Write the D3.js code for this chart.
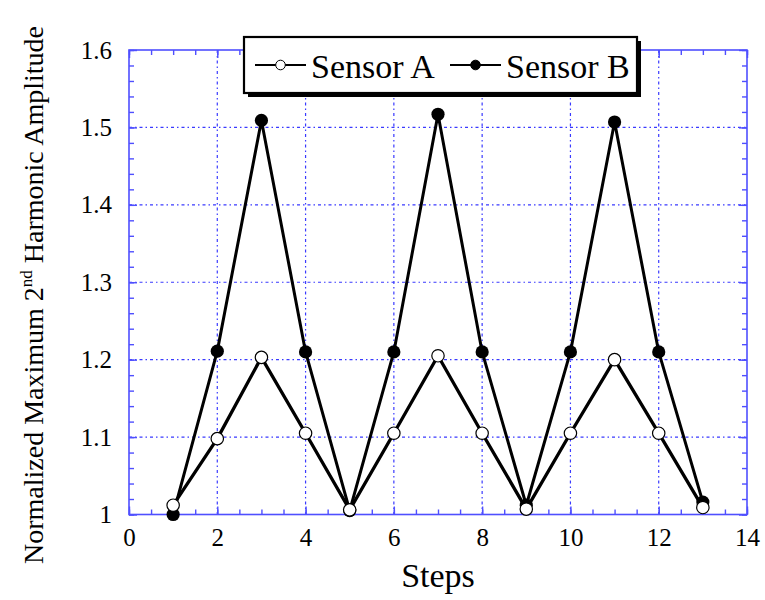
<!DOCTYPE html>
<html>
<head>
<meta charset="utf-8">
<script src="https://cdn.jsdelivr.net/npm/d3@7"></script>
<style>
  body { margin: 0; background: #fff; }
  text { font-family: "Liberation Serif", "Times New Roman", serif; fill: #000; }
</style>
</head>
<body>
<div id="chart"></div>
<script>
// data
const steps = [1, 2, 3, 4, 5, 6, 7, 8, 9, 10, 11, 12, 13];
const sensorA = [1.012, 1.098, 1.203, 1.105, 1.006, 1.105, 1.205, 1.105, 1.007, 1.105, 1.200, 1.105, 1.009];
const sensorB = [1.000, 1.211, 1.509, 1.210, 1.005, 1.210, 1.517, 1.210, 1.012, 1.210, 1.507, 1.210, 1.016];
const xTicks = [0, 2, 4, 6, 8, 10, 12, 14];
const yTicks = [1, 1.1, 1.2, 1.3, 1.4, 1.5, 1.6];

const W = 765, H = 600;
const plotLeft = 129, plotRight = 747, plotTop = 50, plotBottom = 514.5;
const blue = '#4f4fff';

const svg = d3.select('#chart')
    .append('svg')
    .attr('width', W)
    .attr('height', H);

const x = d3.scaleLinear().domain([0, 14]).range([plotLeft, plotRight]);
const y = d3.scaleLinear().domain([1, 1.6]).range([plotBottom, plotTop]);

// grid lines at the major ticks
svg.append('g')
    .selectAll('line')
    .data(xTicks.slice(1, -1))
    .enter()
    .append('line')
    .attr('x1', d => x(d)).attr('x2', d => x(d))
    .attr('y1', plotTop).attr('y2', plotBottom)
    .attr('stroke', '#3a3aff')
    .attr('stroke-width', 1.2)
    .attr('stroke-dasharray', '3,3,1.5,3');

svg.append('g')
    .selectAll('line')
    .data(yTicks.slice(1, -1))
    .enter()
    .append('line')
    .attr('x1', plotLeft).attr('x2', plotRight)
    .attr('y1', d => y(d)).attr('y2', d => y(d))
    .attr('stroke', '#3a3aff')
    .attr('stroke-width', 1.2)
    .attr('stroke-dasharray', '3,3,1.5,3');

// axes: ticks point inward on all four sides
const xMinor = d3.range(0, 14.01, 0.5);
const yMinor = d3.range(1, 1.601, 0.02);

function styleAxis(g) {
    g.select('.domain').remove();
    g.selectAll('.tick line').attr('stroke', blue).attr('stroke-width', 1.4);
}

svg.append('g')
    .attr('transform', `translate(0,${plotBottom})`)
    .call(d3.axisBottom(x).tickValues(xMinor).tickSize(-5).tickFormat(''))
    .call(styleAxis);
svg.append('g')
    .attr('transform', `translate(0,${plotTop})`)
    .call(d3.axisTop(x).tickValues(xMinor).tickSize(-5).tickFormat(''))
    .call(styleAxis);
svg.append('g')
    .attr('transform', `translate(${plotLeft},0)`)
    .call(d3.axisLeft(y).tickValues(yMinor).tickSize(-5).tickFormat(''))
    .call(styleAxis);
svg.append('g')
    .attr('transform', `translate(${plotRight},0)`)
    .call(d3.axisRight(y).tickValues(yMinor).tickSize(-5).tickFormat(''))
    .call(styleAxis);

const xAxis = svg.append('g')
    .attr('transform', `translate(0,${plotBottom})`)
    .call(d3.axisBottom(x).tickValues(xTicks).tickSize(-8).tickPadding(14).tickFormat(d3.format('d')))
    .call(styleAxis);
svg.append('g')
    .attr('transform', `translate(0,${plotTop})`)
    .call(d3.axisTop(x).tickValues(xTicks).tickSize(-8).tickFormat(''))
    .call(styleAxis);
const yAxis = svg.append('g')
    .attr('transform', `translate(${plotLeft},0)`)
    .call(d3.axisLeft(y).tickValues(yTicks).tickSize(-8).tickPadding(17).tickFormat(d => d === 1 ? '1' : d3.format('.1f')(d)))
    .call(styleAxis);
svg.append('g')
    .attr('transform', `translate(${plotRight},0)`)
    .call(d3.axisRight(y).tickValues(yTicks).tickSize(-8).tickFormat(''))
    .call(styleAxis);

[xAxis, yAxis].forEach(g => g.selectAll('text')
    .style('font-family', '"Liberation Serif", serif')
    .style('font-size', '25px')
    .attr('fill', '#000'));

// frame
svg.append('rect')
    .attr('x', plotLeft).attr('y', plotTop)
    .attr('width', plotRight - plotLeft).attr('height', plotBottom - plotTop)
    .attr('fill', 'none')
    .attr('stroke', blue)
    .attr('stroke-width', 1.6);

// series
const ptsA = steps.map((s, i) => [s, sensorA[i]]);
const ptsB = steps.map((s, i) => [s, sensorB[i]]);
const line = d3.line().x(d => x(d[0])).y(d => y(d[1]));

svg.append('path')
    .attr('d', line(ptsB))
    .attr('fill', 'none')
    .attr('stroke', '#000')
    .attr('stroke-width', 3)
    .attr('stroke-linejoin', 'round');
svg.append('path')
    .attr('d', line(ptsA))
    .attr('fill', 'none')
    .attr('stroke', '#000')
    .attr('stroke-width', 3.3)
    .attr('stroke-linejoin', 'round');

svg.append('g')
    .selectAll('circle')
    .data(ptsB)
    .enter()
    .append('circle')
    .attr('cx', d => x(d[0]))
    .attr('cy', d => y(d[1]))
    .attr('r', 6.6)
    .attr('fill', '#000');

svg.append('g')
    .selectAll('circle')
    .data(ptsA)
    .enter()
    .append('circle')
    .attr('cx', d => x(d[0]))
    .attr('cy', d => y(d[1]))
    .attr('r', 6.2)
    .attr('fill', '#fff')
    .attr('stroke', '#000')
    .attr('stroke-width', 1.2);

// legend
const legend = svg.append('g');
legend.append('rect')
    .attr('x', 248).attr('y', 41)
    .attr('width', 393).attr('height', 56)
    .attr('fill', '#000');
legend.append('rect')
    .attr('x', 244).attr('y', 37)
    .attr('width', 393).attr('height', 56)
    .attr('fill', '#fff')
    .attr('stroke', '#000')
    .attr('stroke-width', 2.2);

const legendItems = [
    { name: 'Sensor A', x0: 255, fill: '#fff' },
    { name: 'Sensor B', x0: 450, fill: '#000' }
];
legendItems.forEach(it => {
    legend.append('line')
        .attr('x1', it.x0).attr('x2', it.x0 + 51)
        .attr('y1', 65).attr('y2', 65)
        .attr('stroke', '#000')
        .attr('stroke-width', 2);
    legend.append('circle')
        .attr('cx', it.x0 + 25.5).attr('cy', 65)
        .attr('r', 4.8)
        .attr('fill', it.fill)
        .attr('stroke', '#000')
        .attr('stroke-width', 1);
    legend.append('text')
        .attr('x', it.x0 + 56)
        .attr('y', 78)
        .style('font-size', '34px')
        .text(it.name);
});

// axis titles
svg.append('text')
    .attr('x', x(7))
    .attr('y', 587)
    .attr('text-anchor', 'middle')
    .style('font-size', '34px')
    .text('Steps');

const yLabel = svg.append('text')
    .attr('transform', 'translate(43,295) rotate(-90)')
    .attr('text-anchor', 'middle')
    .style('font-size', '28px');
yLabel.append('tspan').text('Normalized Maximum 2');
yLabel.append('tspan').attr('dy', -11).style('font-size', '17px').text('nd');
yLabel.append('tspan').attr('dy', 11).text(' Harmonic Amplitude');
</script>
</body>
</html>
